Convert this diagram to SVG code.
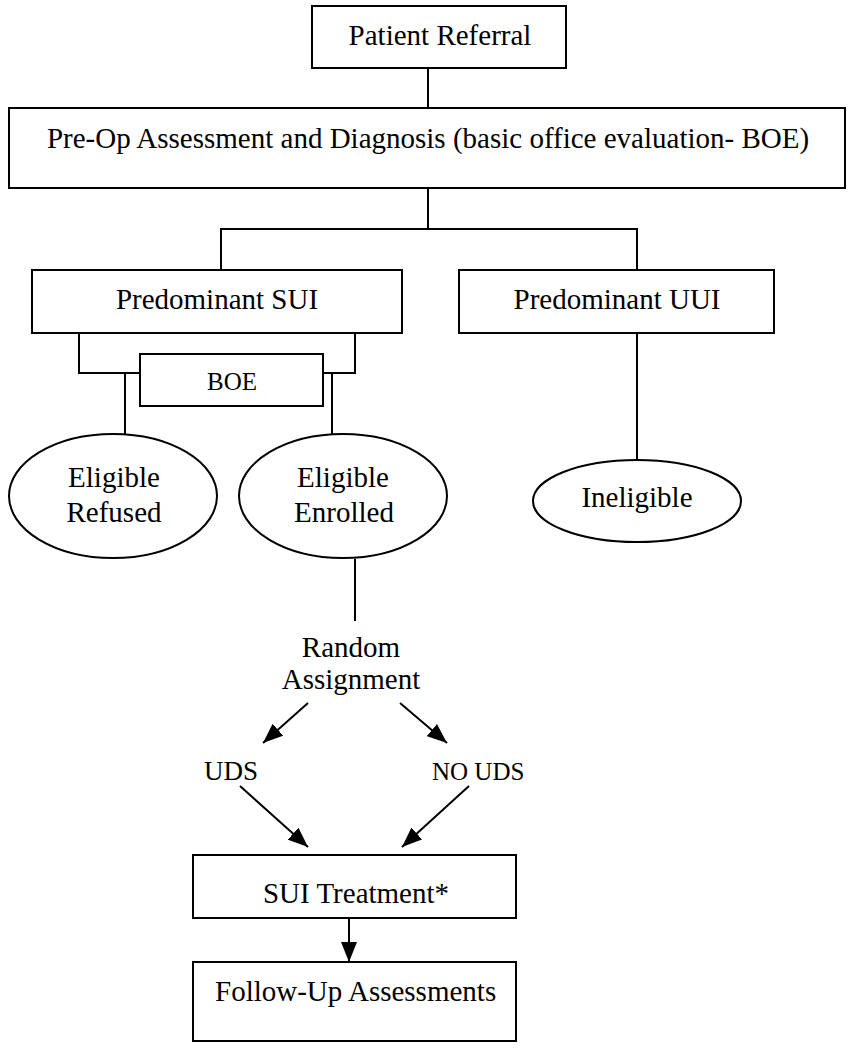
<svg xmlns="http://www.w3.org/2000/svg" width="852" height="1050" viewBox="0 0 852 1050">
<style>
.box{fill:#fff;stroke:#000;stroke-width:2}
.ell{fill:#fff;stroke:#000;stroke-width:2}
.ln{fill:none;stroke:#000;stroke-width:2}
.t{font-family:"Liberation Serif","Times New Roman",serif;font-size:29px;fill:#000}
.m{text-anchor:middle}
</style>
<defs>
<marker id="ah" markerUnits="userSpaceOnUse" markerWidth="20" markerHeight="16" viewBox="0 0 20 16" refX="20" refY="8" orient="auto">
<path d="M0,0 L20,8 L0,16 Z" fill="#000"/>
</marker>
</defs>
<rect width="852" height="1050" fill="#fff"/>
<g id="connectors">
<line class="ln" x1="428" y1="68" x2="428" y2="108"/>
<polyline class="ln" points="428,188 428,229"/>
<polyline class="ln" points="221,270 221,229 637,229 637,270"/>
<polyline class="ln" points="79,333 79,373 140,373"/>
<polyline class="ln" points="355,333 355,373 323,373"/>
<line class="ln" x1="125" y1="373" x2="125" y2="435"/>
<line class="ln" x1="332" y1="374" x2="332" y2="435"/>
<line class="ln" x1="637" y1="333" x2="637" y2="460"/>
<line class="ln" x1="355" y1="559" x2="355" y2="621"/>
<line class="ln" x1="308" y1="703" x2="263" y2="743" marker-end="url(#ah)"/>
<line class="ln" x1="400" y1="703" x2="447" y2="743" marker-end="url(#ah)"/>
<line class="ln" x1="240" y1="786" x2="308" y2="847" marker-end="url(#ah)"/>
<line class="ln" x1="469" y1="786" x2="402" y2="847" marker-end="url(#ah)"/>
<line class="ln" x1="349" y1="910" x2="349" y2="962" marker-end="url(#ah)"/>
</g>
<g id="patient-referral">
<rect class="box" x="312" y="6" width="254" height="62"/>
<text class="t m" x="440" y="45">Patient Referral</text>
</g>
<g id="preop">
<rect class="box" x="9" y="108" width="836" height="80"/>
<text class="t m" x="428" y="148">Pre-Op Assessment and Diagnosis (basic office evaluation- BOE)</text>
</g>
<g id="sui">
<rect class="box" x="32" y="270" width="370" height="63"/>
<text class="t m" x="217" y="309">Predominant SUI</text>
</g>
<g id="uui">
<rect class="box" x="459" y="270" width="315" height="63"/>
<text class="t m" x="617" y="309">Predominant UUI</text>
</g>
<g id="boe">
<rect class="box" x="140" y="354" width="183" height="52"/>
<text class="t m" x="232" y="390" style="font-size:25px">BOE</text>
</g>
<g id="eligible-refused">
<ellipse class="ell" cx="113" cy="496" rx="104" ry="62"/>
<text class="t m" x="114" y="487">Eligible</text>
<text class="t m" x="114" y="522">Refused</text>
</g>
<g id="eligible-enrolled">
<ellipse class="ell" cx="343" cy="496" rx="104" ry="62"/>
<text class="t m" x="343" y="487">Eligible</text>
<text class="t m" x="344" y="522">Enrolled</text>
</g>
<g id="ineligible">
<ellipse class="ell" cx="637" cy="501" rx="104" ry="41"/>
<text class="t m" x="637" y="507">Ineligible</text>
</g>
<g id="random">
<text class="t m" x="351" y="657">Random</text>
<text class="t m" x="351" y="689">Assignment</text>
</g>
<g id="uds">
<text class="t" x="204" y="780" style="font-size:27px">UDS</text>
</g>
<g id="no-uds">
<text class="t" x="432" y="780" style="font-size:25px">NO UDS</text>
</g>
<g id="sui-treatment">
<rect class="box" x="193" y="855" width="323" height="63"/>
<text class="t m" x="356" y="903">SUI Treatment*</text>
</g>
<g id="follow-up">
<rect class="box" x="193" y="962" width="323" height="79"/>
<text class="t" x="215" y="1001">Follow-Up Assessments</text>
</g>
</svg>
